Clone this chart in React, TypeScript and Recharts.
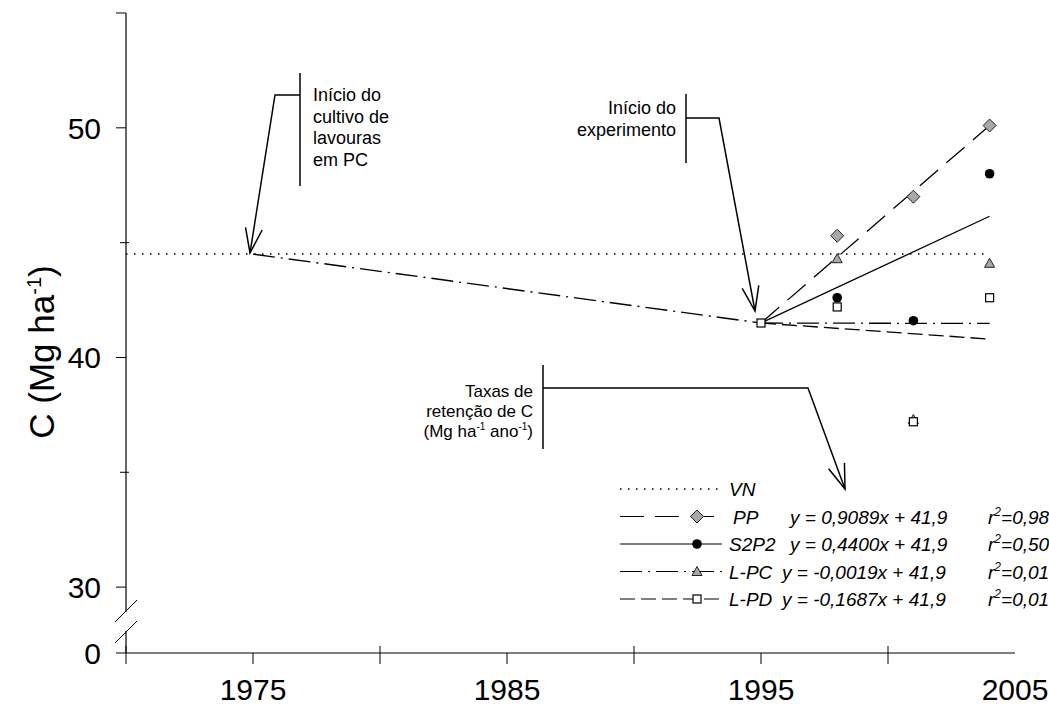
import React from "react";
import { ComposedChart, Line, Scatter, XAxis, YAxis } from "recharts";

// observed soil C stocks (Mg ha-1)
const obsYears = [1998, 2001, 2004];
const ppObs = [45.3, 47.0, 50.1];
const s2p2Obs = [42.6, 41.6, 48.0];
const lpcObs = [44.3, 37.3, 44.1];
const lpdObs = [42.2, 37.2, 42.6];

// start of the experiment
const startYear = 1995;
const startC = 41.5;

// fitted lines 1995 -> 2004
const fitYears = [1995, 2004];
const ppFit = [41.5, 50.1];
const s2p2Fit = [41.5, 46.15];
const lpcFit = [41.5, 41.48];
const lpdFit = [41.5, 40.8];

// loss under conventional tillage
const histYears = [1975, 1995];
const histC = [44.5, 41.5];

// native vegetation
const vnYears = [1970, 2004];
const vnC = [44.5, 44.5];

const legendNames = ["VN", "PP", "S2P2", "L-PC", "L-PD"];
const legendEqs = ["", "y = 0,9089x + 41,9", "y = 0,4400x + 41,9", "y = -0,0019x + 41,9", "y = -0,1687x + 41,9"];
const legendR2 = ["", "0,98", "0,50", "0,01", "0,01"];

const xTicks = [1970, 1975, 1980, 1985, 1990, 1995, 2000, 2005];
const xLabels = [1975, 1985, 1995, 2005];
const Y_ZERO = 27.13; // axis break: bottom of the axis stands for 0
const yTicks = [Y_ZERO, 30, 35, 40, 45, 50, 55];
const yLabels: Record<number, string> = { [Y_ZERO]: "0", 30: "30", 40: "40", 50: "50" };

const pts = (xs: number[], ys: number[]) => xs.map((year, i) => ({ year, c: ys[i] }));

const SANS = "'Liberation Sans', Arial, sans-serif";
const DASH_DOT = "22 6 2 6";
const LONG_DASH = "24 11";
const SHORT_DASH = "15 6";
const DOTS = "1.5 6.5";

const Diamond = (p: any) => (
  <path
    d={`M${p.cx},${p.cy - 6.5} L${p.cx + 6.5},${p.cy} L${p.cx},${p.cy + 6.5} L${p.cx - 6.5},${p.cy} Z`}
    fill="#a8a8a8" stroke="#222" strokeWidth={1}
  />
);
const Dot = (p: any) => <circle cx={p.cx} cy={p.cy} r={4.8} fill="#000" />;
const Tri = (p: any) => (
  <path
    d={`M${p.cx},${p.cy - 5} L${p.cx + 5},${p.cy + 4} L${p.cx - 5},${p.cy + 4} Z`}
    fill="#a8a8a8" stroke="#222" strokeWidth={1}
  />
);
const Sq = (p: any) => (
  <rect x={p.cx - 4} y={p.cy - 4} width={8} height={8} fill="#fff" stroke="#000" strokeWidth={1.2} />
);

const XTick = ({ x, y, payload }: any) => {
  const v = payload.value;
  const decade = v % 10 === 0;
  return (
    <g>
      {v < 2005 && (
        <line x1={x} x2={x} y1={decade ? y - 7 : y} y2={y + 11} stroke="#000" strokeWidth={1} />
      )}
      {xLabels.includes(v) && (
        <text x={x} y={y + 47} textAnchor="middle" fontSize={30} fontFamily={SANS} fill="#000">
          {v}
        </text>
      )}
    </g>
  );
};

const YTick = ({ x, y, payload }: any) => {
  const v = payload.value;
  const minor = v === 35 || v === 45;
  const label = yLabels[v];
  return (
    <g>
      <line x1={minor ? x - 6 : x - 10} x2={minor ? x + 3 : x} y1={y} y2={y} stroke="#000" strokeWidth={1} />
      {label && (
        <text x={x - 25} y={y + 11} textAnchor="end" fontSize={30} fontFamily={SANS} fill="#000">
          {label}
        </text>
      )}
    </g>
  );
};

function Arrow({ path }: { path: number[][] }) {
  const [x1, y1] = path[path.length - 2];
  const [x2, y2] = path[path.length - 1];
  const a = Math.atan2(y1 - y2, x1 - x2);
  const len = 26;
  const s = 0.33;
  const h1 = [x2 + len * Math.cos(a - s), y2 + len * Math.sin(a - s)];
  const h2 = [x2 + len * Math.cos(a + s), y2 + len * Math.sin(a + s)];
  return (
    <g fill="none" stroke="#000" strokeWidth={1.5}>
      <polyline points={path.map((p) => p.join(",")).join(" ")} />
      <polyline points={`${h1.join(",")} ${x2},${y2} ${h2.join(",")}`} />
    </g>
  );
}

const legendStyles = [
  { dash: DOTS, Marker: null },
  { dash: LONG_DASH, Marker: Diamond },
  { dash: undefined, Marker: Dot },
  { dash: DASH_DOT, Marker: Tri },
  { dash: SHORT_DASH, Marker: Sq },
];

function Overlay() {
  const ann = { fontFamily: SANS, fill: "#000" };
  const leg = { fontFamily: SANS, fontStyle: "italic", fontSize: 19, fill: "#000" };
  return (
    <svg width={1049} height={710} style={{ position: "absolute", left: 0, top: 0, pointerEvents: "none" }}>
      {/* axis break */}
      <rect x={122} y={612} width={8} height={19} fill="#fff" />
      <line x1={115} y1={622} x2={137} y2={600} stroke="#000" strokeWidth={1} />
      <line x1={115} y1={643} x2={137} y2={621} stroke="#000" strokeWidth={1} />

      {/* y axis title */}
      <text transform="translate(54,352) rotate(-90)" textAnchor="middle" fontSize={35} fontFamily={SANS} fill="#000">
        <tspan>C (Mg ha</tspan>
        <tspan dy={-13} fontSize={20}>-1</tspan>
        <tspan dy={13}>)</tspan>
      </text>

      {/* annotation 1 */}
      <line x1={300} y1={73} x2={300} y2={186} stroke="#000" strokeWidth={1.5} />
      <Arrow path={[[300, 95], [275, 95], [250, 253]]} />
      <text {...ann} fontSize={18}>
        {["Início do", "cultivo de", "lavouras", "em PC"].map((s, i) => (
          <tspan key={i} x={313} y={101 + i * 21.5}>{s}</tspan>
        ))}
      </text>

      {/* annotation 2 */}
      <line x1={686} y1={94} x2={686} y2={163} stroke="#000" strokeWidth={1.5} />
      <Arrow path={[[686, 118], [719, 118], [755, 311]]} />
      <text {...ann} fontSize={18} textAnchor="end">
        {["Início do", "experimento"].map((s, i) => (
          <tspan key={i} x={676} y={114 + i * 22}>{s}</tspan>
        ))}
      </text>

      {/* annotation 3 */}
      <line x1={543} y1={365} x2={543} y2={449} stroke="#000" strokeWidth={1.5} />
      <Arrow path={[[543, 388], [808, 388], [845, 489]]} />
      <text {...ann} fontSize={17} textAnchor="end">
        <tspan x={533} y={397}>Taxas de</tspan>
        <tspan x={533} y={417}>retenção de C</tspan>
      </text>
      <text {...ann} fontSize={17} textAnchor="end" x={533} y={437}>
        <tspan>(Mg ha</tspan>
        <tspan dy={-7} fontSize={10}>-1</tspan>
        <tspan dy={7}> ano</tspan>
        <tspan dy={-7} fontSize={10}>-1</tspan>
        <tspan dy={7}>)</tspan>
      </text>

      {/* legend */}
      {legendNames.map((name, i) => {
        const cy = 489 + i * 27.5;
        const { dash, Marker } = legendStyles[i];
        return (
          <g key={name}>
            <line x1={620} x2={722} y1={cy} y2={cy} stroke="#000" strokeWidth={i === 0 ? 1.5 : 1.2} strokeDasharray={dash} />
            {Marker && <Marker cx={697} cy={cy} />}
            <text {...leg} x={i === 1 ? 733 : 729} y={cy + 7}>{name}</text>
            {legendEqs[i] && (
              <text {...leg} x={i >= 3 ? 782 : 790} y={cy + 7}>{legendEqs[i]}</text>
            )}
            {legendR2[i] && (
              <text {...leg} x={988} y={cy + 7}>
                <tspan>r</tspan>
                <tspan dy={-8} fontSize={12}>2</tspan>
                <tspan dy={8}>={legendR2[i]}</tspan>
              </text>
            )}
          </g>
        );
      })}
    </svg>
  );
}

export default function App() {
  return (
    <div style={{ position: "absolute", left: 0, top: 0, width: 1049, height: 710, background: "#fff" }}>
      <ComposedChart width={1049} height={710} margin={{ top: 13, right: 34, bottom: 0, left: 0 }}>
        <XAxis
          dataKey="year" type="number" domain={[1970, 2005]} ticks={xTicks} interval={0}
          height={57} tickSize={0} tickMargin={0} tickLine={false} tick={<XTick />}
          axisLine={{ stroke: "#000", strokeWidth: 1.2 }} allowDataOverflow
        />
        <YAxis
          dataKey="c" type="number" domain={[Y_ZERO, 55]} ticks={yTicks} interval={0}
          width={126} tickSize={0} tickMargin={0} tickLine={false} tick={<YTick />}
          axisLine={{ stroke: "#000", strokeWidth: 1.2 }} allowDataOverflow
        />
        <Line data={pts(vnYears, vnC)} dataKey="c" stroke="#000" strokeWidth={1.5} strokeDasharray={DOTS} dot={false} isAnimationActive={false} />
        <Line data={pts(histYears, histC)} dataKey="c" stroke="#000" strokeWidth={1.4} strokeDasharray={DASH_DOT} dot={false} isAnimationActive={false} />
        <Line data={pts(fitYears, ppFit)} dataKey="c" stroke="#000" strokeWidth={1.3} strokeDasharray={LONG_DASH} dot={false} isAnimationActive={false} />
        <Line data={pts(fitYears, s2p2Fit)} dataKey="c" stroke="#000" strokeWidth={1.3} dot={false} isAnimationActive={false} />
        <Line data={pts(fitYears, lpcFit)} dataKey="c" stroke="#000" strokeWidth={1.3} strokeDasharray={DASH_DOT} dot={false} isAnimationActive={false} />
        <Line data={pts(fitYears, lpdFit)} dataKey="c" stroke="#000" strokeWidth={1.3} strokeDasharray={SHORT_DASH} dot={false} isAnimationActive={false} />
        <Scatter data={pts(obsYears, ppObs)} shape={Diamond} isAnimationActive={false} />
        <Scatter data={pts(obsYears, s2p2Obs)} shape={Dot} isAnimationActive={false} />
        <Scatter data={pts(obsYears, lpcObs)} shape={Tri} isAnimationActive={false} />
        <Scatter data={pts([startYear, ...obsYears], [startC, ...lpdObs])} shape={Sq} isAnimationActive={false} />
      </ComposedChart>
      <Overlay />
    </div>
  );
}
